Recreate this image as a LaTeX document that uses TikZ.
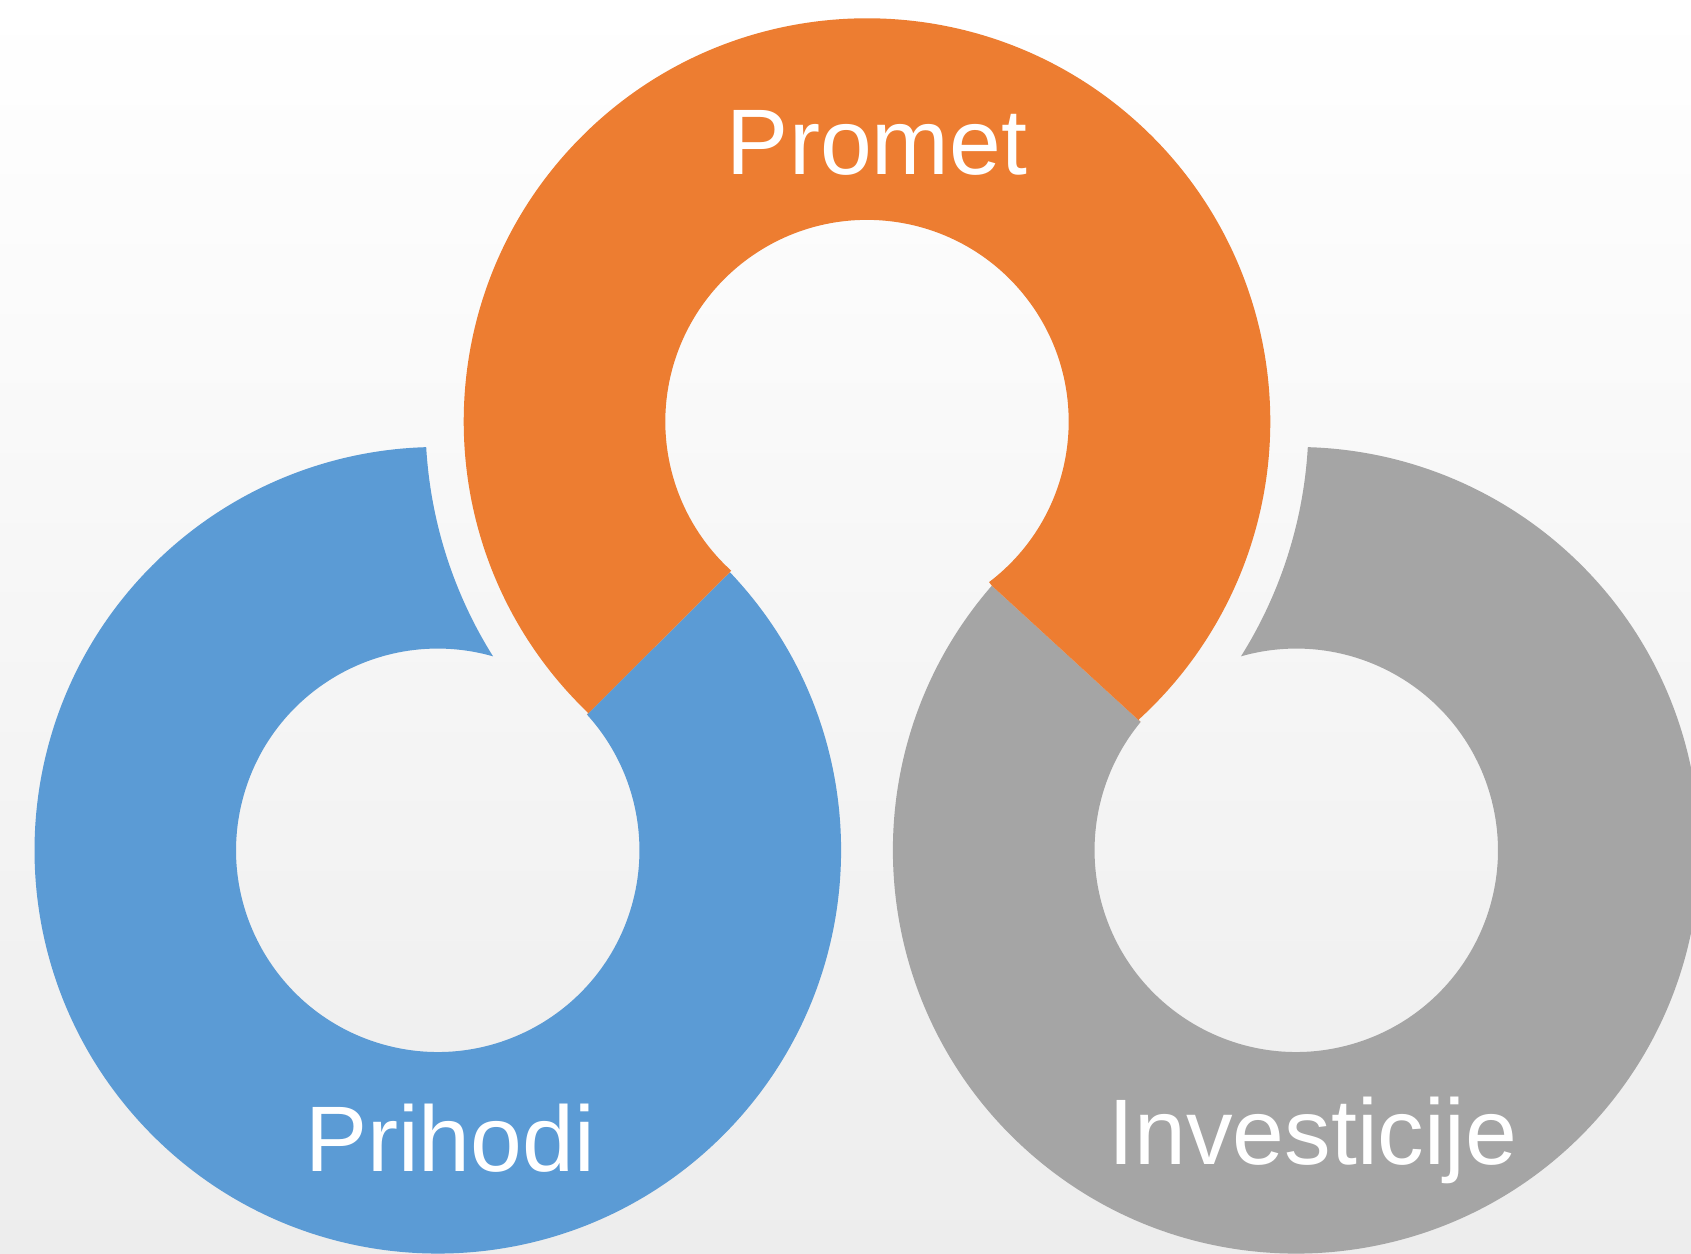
\documentclass[tikz,border=0pt]{standalone}
\usepackage{fontspec}
\setmainfont{Liberation Sans}
\usetikzlibrary{calc, positioning}
\definecolor{ringblue}{HTML}{5B9BD5}
\definecolor{ringorange}{HTML}{ED7D31}
\definecolor{ringgrey}{HTML}{A5A5A5}
\definecolor{bgbottom}{HTML}{EDEDED}

\begin{document}
\begin{tikzpicture}
    % Define styles
    \tikzstyle{ringtext} = [text=white, font=\fontsize{26.5}{32}\selectfont, anchor=base, inner sep=0pt]
    \def\Rout{4.033}
    \def\Rin{2.017}
    \def\Rgap{4.415}

    % Background
    \useasboundingbox (0,0) rectangle (16.91,12.54);
    \clip (0,0) rectangle (16.91,12.54);
    \shade[top color=white, bottom color=bgbottom] (0,0) rectangle (16.91,12.54);

    % Ring centres and joins
    \coordinate (c1) at (4.378,4.037);
    \coordinate (c2) at (8.670,8.324);
    \coordinate (c3) at (12.962,4.037);
    \coordinate (j1o) at ($(c1)+(43.6:\Rout)$);
    \coordinate (j1i) at ($(c1)+(42.3:\Rin)$);
    \coordinate (j3o) at ($(c3)+(139:\Rout)$);
    \coordinate (j3i) at ($(c3)+(140.5:\Rin)$);

    % Rings
    \fill[ringblue] (j1o) arc[start angle=43.6, end angle=-268.35, radius=\Rout]
        arc[start angle=183.32, end angle=212.12, radius=\Rgap]
        arc[start angle=74.10, end angle=402.3, radius=\Rin] -- cycle;
    \fill[ringgrey] (j3o) arc[start angle=139, end angle=448.35, radius=\Rout]
        arc[start angle=-3.32, end angle=-32.12, radius=\Rgap]
        arc[start angle=105.90, end angle=-219.5, radius=\Rin] -- cycle;
    \fill[ringorange] (j1i) -- ($(c2)+(226.29:\Rout)$)
        arc[start angle=226.29, end angle=-47.68, radius=\Rout] -- (j3i) -- (j3o)
        -- ($(c2)+(-52.74:\Rin)$) arc[start angle=-52.74, end angle=227.67, radius=\Rin]
        -- (j1o) -- cycle;

    % Labels
    \node[ringtext] (promet) at (8.77,10.79) {Promet};
    \node[ringtext] (prihodi) at (4.50,0.823) {Prihodi};
    \node[ringtext] (investicije) at (13.13,0.89) {Investicije};
\end{tikzpicture}
\end{document}
